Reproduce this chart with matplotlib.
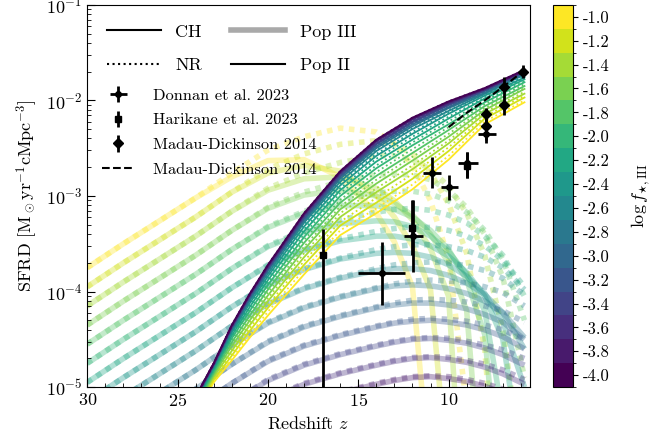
import numpy as np
import matplotlib.pyplot as plt
from matplotlib.colors import BoundaryNorm
from matplotlib.cm import ScalarMappable
from matplotlib.lines import Line2D
from matplotlib.ticker import MultipleLocator

plt.rcParams['font.family'] = 'serif'
plt.rcParams['font.serif'] = ['cmr10']
plt.rcParams['mathtext.fontset'] = 'cm'
plt.rcParams['axes.unicode_minus'] = False
plt.rcParams['axes.formatter.use_mathtext'] = True

# log f_star,III values, one curve per value (yellow -> purple)
log_fstar = [-1.0, -1.2, -1.4, -1.6, -1.8, -2.0, -2.2, -2.4,
             -2.6, -2.8, -3.0, -3.2, -3.4, -3.6, -3.8, -4.0]

# Pop II SFRD (log10), CH = solid, NR = dotted
z_pop2 = [25, 24, 23, 22, 21, 20, 18, 16, 14, 12, 10, 8, 5.8]
pop2_ch = [
    [-5.70, -5.28, -4.95, -4.72, -4.48, -4.25, -3.82, -3.41, -3.18, -2.93, -2.62, -2.25, -2.02],
    [-5.69, -5.25, -4.92, -4.67, -4.41, -4.17, -3.72, -3.31, -3.07, -2.82, -2.53, -2.19, -1.97],
    [-5.67, -5.23, -4.89, -4.62, -4.35, -4.10, -3.64, -3.22, -2.96, -2.72, -2.45, -2.14, -1.93],
    [-5.66, -5.21, -4.87, -4.57, -4.30, -4.04, -3.56, -3.14, -2.87, -2.63, -2.38, -2.10, -1.88],
    [-5.65, -5.19, -4.85, -4.53, -4.25, -3.98, -3.49, -3.07, -2.79, -2.55, -2.31, -2.06, -1.85],
    [-5.64, -5.17, -4.83, -4.49, -4.20, -3.93, -3.43, -3.00, -2.71, -2.47, -2.25, -2.02, -1.81],
    [-5.63, -5.15, -4.81, -4.46, -4.16, -3.88, -3.37, -2.94, -2.64, -2.41, -2.19, -1.98, -1.78],
    [-5.62, -5.14, -4.79, -4.43, -4.12, -3.84, -3.32, -2.89, -2.58, -2.35, -2.14, -1.95, -1.76],
    [-5.62, -5.13, -4.78, -4.41, -4.09, -3.81, -3.28, -2.85, -2.53, -2.30, -2.11, -1.93, -1.73],
    [-5.61, -5.12, -4.77, -4.39, -4.08, -3.78, -3.26, -2.82, -2.50, -2.27, -2.08, -1.92, -1.72],
    [-5.61, -5.12, -4.77, -4.38, -4.06, -3.77, -3.24, -2.80, -2.48, -2.25, -2.07, -1.90, -1.71],
    [-5.61, -5.11, -4.76, -4.38, -4.05, -3.76, -3.23, -2.79, -2.46, -2.23, -2.05, -1.90, -1.70],
    [-5.61, -5.11, -4.76, -4.37, -4.04, -3.75, -3.21, -2.77, -2.45, -2.22, -2.04, -1.89, -1.70],
    [-5.60, -5.11, -4.76, -4.36, -4.03, -3.74, -3.20, -2.76, -2.43, -2.20, -2.03, -1.88, -1.69],
    [-5.60, -5.10, -4.75, -4.36, -4.03, -3.73, -3.19, -2.75, -2.42, -2.19, -2.02, -1.88, -1.69],
    [-5.60, -5.10, -4.75, -4.35, -4.02, -3.72, -3.18, -2.74, -2.41, -2.18, -2.01, -1.87, -1.68],
]
pop2_nr = [
    [-5.70, -5.27, -4.94, -4.70, -4.45, -4.21, -3.77, -3.36, -3.13, -2.88, -2.58, -2.22, -2.00],
    [-5.68, -5.24, -4.91, -4.65, -4.38, -4.14, -3.68, -3.27, -3.02, -2.77, -2.49, -2.17, -1.95],
    [-5.67, -5.22, -4.88, -4.60, -4.33, -4.07, -3.60, -3.18, -2.92, -2.68, -2.42, -2.12, -1.91],
    [-5.66, -5.20, -4.86, -4.55, -4.28, -4.01, -3.53, -3.11, -2.83, -2.59, -2.35, -2.08, -1.87],
    [-5.65, -5.18, -4.84, -4.51, -4.23, -3.96, -3.46, -3.04, -2.75, -2.51, -2.28, -2.04, -1.83],
    [-5.64, -5.16, -4.82, -4.48, -4.18, -3.91, -3.40, -2.97, -2.68, -2.44, -2.22, -2.00, -1.80],
    [-5.63, -5.15, -4.80, -4.45, -4.14, -3.86, -3.35, -2.92, -2.61, -2.38, -2.17, -1.97, -1.77],
    [-5.62, -5.14, -4.79, -4.42, -4.11, -3.83, -3.30, -2.87, -2.56, -2.33, -2.13, -1.94, -1.75],
    [-5.62, -5.13, -4.78, -4.40, -4.09, -3.80, -3.27, -2.84, -2.52, -2.29, -2.10, -1.93, -1.73],
    [-5.61, -5.12, -4.77, -4.39, -4.07, -3.78, -3.25, -2.81, -2.49, -2.26, -2.08, -1.91, -1.72],
    [-5.61, -5.12, -4.77, -4.38, -4.06, -3.77, -3.24, -2.80, -2.47, -2.24, -2.06, -1.90, -1.71],
    [-5.61, -5.11, -4.76, -4.38, -4.05, -3.76, -3.22, -2.78, -2.46, -2.23, -2.05, -1.89, -1.70],
    [-5.61, -5.11, -4.76, -4.37, -4.04, -3.75, -3.21, -2.77, -2.44, -2.21, -2.04, -1.89, -1.70],
    [-5.60, -5.11, -4.76, -4.36, -4.03, -3.74, -3.20, -2.76, -2.43, -2.20, -2.03, -1.88, -1.69],
    [-5.60, -5.10, -4.75, -4.36, -4.03, -3.73, -3.19, -2.75, -2.42, -2.19, -2.02, -1.88, -1.69],
    [-5.60, -5.10, -4.75, -4.35, -4.02, -3.72, -3.18, -2.74, -2.41, -2.18, -2.01, -1.87, -1.68],
]

# Pop III SFRD (log10), CH = thick solid, NR = thick dotted
z_pop3 = [30, 28, 26, 24, 22, 20, 18, 16, 14, 13, 12, 11, 10, 9, 8, 7, 5.8]
pop3_ch = [
    [-3.75, -3.50, -3.26, -3.02, -2.80, -2.63, -2.62, -2.80, -3.18, -3.48, -3.95, -6.0, -7.0, -7.0, -7.0, -7.0, -7.0],
    [-3.95, -3.70, -3.46, -3.22, -2.96, -2.76, -2.68, -2.74, -3.00, -3.22, -3.52, -3.98, -6.0, -7.0, -7.0, -7.0, -7.0],
    [-4.15, -3.90, -3.66, -3.42, -3.16, -2.94, -2.82, -2.80, -2.92, -3.05, -3.25, -3.55, -4.05, -7.0, -7.0, -7.0, -7.0],
    [-4.35, -4.10, -3.86, -3.62, -3.36, -3.13, -2.99, -2.94, -3.00, -3.08, -3.20, -3.40, -3.70, -4.20, -6.5, -7.0, -7.0],
    [-4.55, -4.30, -4.06, -3.82, -3.56, -3.33, -3.18, -3.10, -3.10, -3.14, -3.22, -3.36, -3.56, -3.88, -4.45, -6.5, -7.0],
    [-4.75, -4.50, -4.26, -4.02, -3.76, -3.53, -3.38, -3.29, -3.26, -3.27, -3.32, -3.42, -3.58, -3.82, -4.20, -5.3, -7.0],
    [-4.95, -4.70, -4.46, -4.22, -3.96, -3.73, -3.57, -3.47, -3.42, -3.42, -3.45, -3.52, -3.63, -3.80, -4.05, -4.50, -6.0],
    [-5.15, -4.90, -4.66, -4.42, -4.16, -3.93, -3.77, -3.66, -3.60, -3.59, -3.60, -3.64, -3.72, -3.84, -4.02, -4.32, -5.0],
    [-5.35, -5.10, -4.86, -4.62, -4.36, -4.13, -3.97, -3.86, -3.78, -3.76, -3.76, -3.78, -3.83, -3.91, -4.03, -4.22, -4.6],
    [-5.55, -5.30, -5.06, -4.82, -4.56, -4.33, -4.17, -4.06, -3.97, -3.94, -3.93, -3.94, -3.97, -4.02, -4.10, -4.22, -4.48],
    [-5.75, -5.50, -5.26, -5.02, -4.76, -4.53, -4.37, -4.26, -4.17, -4.14, -4.12, -4.12, -4.14, -4.18, -4.24, -4.32, -4.50],
    [-5.95, -5.70, -5.46, -5.22, -4.96, -4.73, -4.57, -4.46, -4.37, -4.33, -4.31, -4.30, -4.32, -4.35, -4.40, -4.47, -4.60],
    [-6.15, -5.90, -5.66, -5.42, -5.16, -4.93, -4.77, -4.66, -4.57, -4.53, -4.50, -4.49, -4.51, -4.54, -4.59, -4.66, -4.77],
    [-6.35, -6.10, -5.86, -5.62, -5.36, -5.13, -4.97, -4.86, -4.77, -4.73, -4.70, -4.69, -4.71, -4.74, -4.79, -4.86, -4.97],
    [-6.55, -6.30, -6.06, -5.82, -5.56, -5.33, -5.17, -5.06, -4.97, -4.93, -4.90, -4.89, -4.91, -4.94, -4.99, -5.06, -5.17],
    [-6.75, -6.50, -6.26, -6.02, -5.76, -5.53, -5.37, -5.26, -5.17, -5.13, -5.10, -5.09, -5.11, -5.14, -5.19, -5.26, -5.37],
]
pop3_nr = [
    [-3.75, -3.50, -3.26, -3.02, -2.76, -2.52, -2.38, -2.29, -2.33, -2.45, -2.68, -3.05, -3.65, -5.2, -7.0, -7.0, -7.0],
    [-3.95, -3.70, -3.46, -3.22, -2.96, -2.72, -2.56, -2.46, -2.42, -2.46, -2.56, -2.76, -3.08, -3.60, -4.6, -7.0, -7.0],
    [-4.15, -3.90, -3.66, -3.42, -3.16, -2.92, -2.76, -2.65, -2.58, -2.58, -2.62, -2.72, -2.90, -3.18, -3.62, -4.40, -6.0],
    [-4.35, -4.10, -3.86, -3.62, -3.36, -3.12, -2.96, -2.85, -2.78, -2.77, -2.78, -2.83, -2.94, -3.12, -3.40, -3.85, -4.9],
    [-4.55, -4.30, -4.06, -3.82, -3.56, -3.32, -3.16, -3.05, -2.97, -2.95, -2.95, -2.98, -3.05, -3.17, -3.36, -3.66, -4.3],
    [-4.75, -4.50, -4.26, -4.02, -3.76, -3.52, -3.36, -3.25, -3.17, -3.14, -3.13, -3.15, -3.20, -3.28, -3.42, -3.62, -4.05],
    [-4.95, -4.70, -4.46, -4.22, -3.96, -3.72, -3.56, -3.45, -3.37, -3.34, -3.32, -3.33, -3.36, -3.42, -3.52, -3.67, -3.95],
    [-5.15, -4.90, -4.66, -4.42, -4.16, -3.92, -3.76, -3.65, -3.56, -3.53, -3.51, -3.51, -3.53, -3.57, -3.64, -3.75, -3.98],
    [-5.35, -5.10, -4.86, -4.62, -4.36, -4.12, -3.96, -3.85, -3.76, -3.72, -3.70, -3.69, -3.70, -3.73, -3.78, -3.86, -4.04],
    [-5.55, -5.30, -5.06, -4.82, -4.56, -4.32, -4.16, -4.05, -3.96, -3.92, -3.89, -3.88, -3.89, -3.91, -3.95, -4.01, -4.15],
    [-5.75, -5.50, -5.26, -5.02, -4.76, -4.52, -4.36, -4.25, -4.16, -4.12, -4.09, -4.08, -4.09, -4.11, -4.15, -4.20, -4.32],
    [-5.95, -5.70, -5.46, -5.22, -4.96, -4.72, -4.56, -4.45, -4.36, -4.32, -4.29, -4.28, -4.29, -4.31, -4.35, -4.40, -4.50],
    [-6.15, -5.90, -5.66, -5.42, -5.16, -4.92, -4.76, -4.65, -4.56, -4.52, -4.49, -4.48, -4.49, -4.52, -4.56, -4.61, -4.70],
    [-6.35, -6.10, -5.86, -5.62, -5.36, -5.12, -4.96, -4.85, -4.76, -4.72, -4.69, -4.68, -4.69, -4.72, -4.76, -4.82, -4.92],
    [-6.55, -6.30, -6.06, -5.82, -5.56, -5.32, -5.16, -5.05, -4.96, -4.92, -4.89, -4.88, -4.89, -4.92, -4.96, -5.02, -5.12],
    [-6.75, -6.50, -6.26, -6.02, -5.76, -5.52, -5.36, -5.25, -5.16, -5.12, -5.09, -5.08, -5.09, -5.12, -5.16, -5.22, -5.32],
]

# observations (log10 SFRD with lower / upper bounds)
donnan_z = [13.7, 11.95, 10.9, 9.97, 8.97, 7.92]
donnan_zlo = [12.4, 11.4, 10.4, 9.47, 8.4, 7.4]
donnan_zhi = [15.0, 12.45, 11.4, 10.4, 9.47, 8.4]
donnan_log = [-3.81, -3.42, -2.76, -2.91, -2.66, -2.35]
donnan_lo = [-4.14, -3.80, -2.92, -3.04, -2.81, -2.45]
donnan_hi = [-3.48, -3.04, -2.59, -2.78, -2.54, -2.25]

harikane_z = [16.95, 12.0, 8.97]
harikane_log = [-3.62, -3.34, -2.69]
harikane_lo = [-6.0, -3.62, -2.81]
harikane_hi = [-3.35, -3.04, -2.54]

md14_z = [7.92, 7.92, 6.92, 6.92, 5.87]
md14_log = [-2.27, -2.14, -2.05, -1.86, -1.70]
md14_lo = [-2.41, -2.25, -2.15, -1.96, -1.77]
md14_hi = [-2.16, -2.08, -1.95, -1.76, -1.63]

md14_fit_z = [10.0, 9.0, 8.0, 7.0, 5.9]
md14_fit_log = [-2.28, -2.13, -2.00, -1.86, -1.70]


def yerr(vals, lo, hi):
    v = 10 ** np.array(vals)
    return v, [v - 10 ** np.array(lo), 10 ** np.array(hi) - v]


fig = plt.figure(figsize=(6.51, 4.37), dpi=100)
ax = fig.add_axes([0.134, 0.114, 0.680, 0.875])
cax = fig.add_axes([0.849, 0.114, 0.031, 0.875])

cmap = plt.get_cmap('viridis', 16)
norm = BoundaryNorm(np.linspace(-4.1, -0.9, 17), 16)

# Pop III: thick translucent lines
for k, f in enumerate(log_fstar):
    c = cmap(norm(f))
    ax.plot(z_pop3, 10 ** np.array(pop3_ch[k]), color=c, lw=4, alpha=0.35, solid_capstyle='butt', zorder=1)
    ax.plot(z_pop3, 10 ** np.array(pop3_nr[k]), color=c, lw=4, alpha=0.35, ls=(0, (1, 1)), zorder=1)

# Pop II: thin lines, purple drawn last
for k in range(len(log_fstar)):
    c = cmap(norm(log_fstar[k]))
    ax.plot(z_pop2, 10 ** np.array(pop2_ch[k]), color=c, lw=1.3, zorder=2)
    ax.plot(z_pop2, 10 ** np.array(pop2_nr[k]), color=c, lw=1.3, ls=':', zorder=2)

# data points
dy, dyerr = yerr(donnan_log, donnan_lo, donnan_hi)
dz = np.array(donnan_z)
eb1 = ax.errorbar(dz, dy, yerr=dyerr, xerr=[dz - np.array(donnan_zlo), np.array(donnan_zhi) - dz],
                  fmt='o', ms=4, color='k', elinewidth=2, capsize=0, zorder=5, label='Donnan et al. 2023')
hy, hyerr = yerr(harikane_log, harikane_lo, harikane_hi)
eb2 = ax.errorbar(harikane_z, hy, yerr=hyerr, fmt='s', ms=5, color='k', elinewidth=2, capsize=0,
                  zorder=5, label='Harikane et al. 2023')
my, myerr = yerr(md14_log, md14_lo, md14_hi)
eb3 = ax.errorbar(md14_z, my, yerr=myerr, fmt='D', ms=5, color='k', elinewidth=2, capsize=0,
                  zorder=5, label='Madau-Dickinson 2014')
fit, = ax.plot(md14_fit_z, 10 ** np.array(md14_fit_log), 'k--', lw=1.5, zorder=4, label='Madau-Dickinson 2014')

ax.set_yscale('log')
ax.set_xlim(30, 5.5)
ax.set_ylim(1e-5, 1e-1)
ax.xaxis.set_major_locator(MultipleLocator(5))
ax.xaxis.set_minor_locator(MultipleLocator(1))
ax.tick_params(which='both', direction='in', labelsize=13)
ax.tick_params(which='major', length=6)
ax.tick_params(which='minor', length=3)
ax.set_xlabel(r'Redshift $z$', fontsize=13)
ax.set_ylabel(r'SFRD [M$_\odot$yr$^{-1}$cMpc$^{-3}$]', fontsize=13)

# legends
style_handles = [Line2D([], [], color='k', lw=1.5), Line2D([], [], color='k', lw=1.5, ls=':'),
                 Line2D([], [], color='darkgray', lw=4), Line2D([], [], color='k', lw=1.5)]
leg1 = ax.legend(style_handles, ['CH', 'NR', 'Pop III', 'Pop II'], ncol=2, loc='upper left',
                 frameon=False, fontsize=13, handlelength=3, columnspacing=1.6,
                 borderaxespad=0.67, labelspacing=1.0)
ax.add_artist(leg1)
ax.legend(handles=[eb1, eb2, eb3, fit], loc='upper left', bbox_to_anchor=(0.0, 0.82),
          frameon=False, fontsize=11.8, handlelength=2.0, handletextpad=1.1, labelspacing=0.62)

# colorbar
sm = ScalarMappable(norm=norm, cmap=cmap)
cb = fig.colorbar(sm, cax=cax, ticks=log_fstar)
cb.set_ticklabels(['%.1f' % f for f in log_fstar])
cb.ax.tick_params(labelsize=12)
cb.set_label(r'$\log f_{\star,\rm III}$', fontsize=13, labelpad=14)

fig.savefig('out.png', dpi=100)
